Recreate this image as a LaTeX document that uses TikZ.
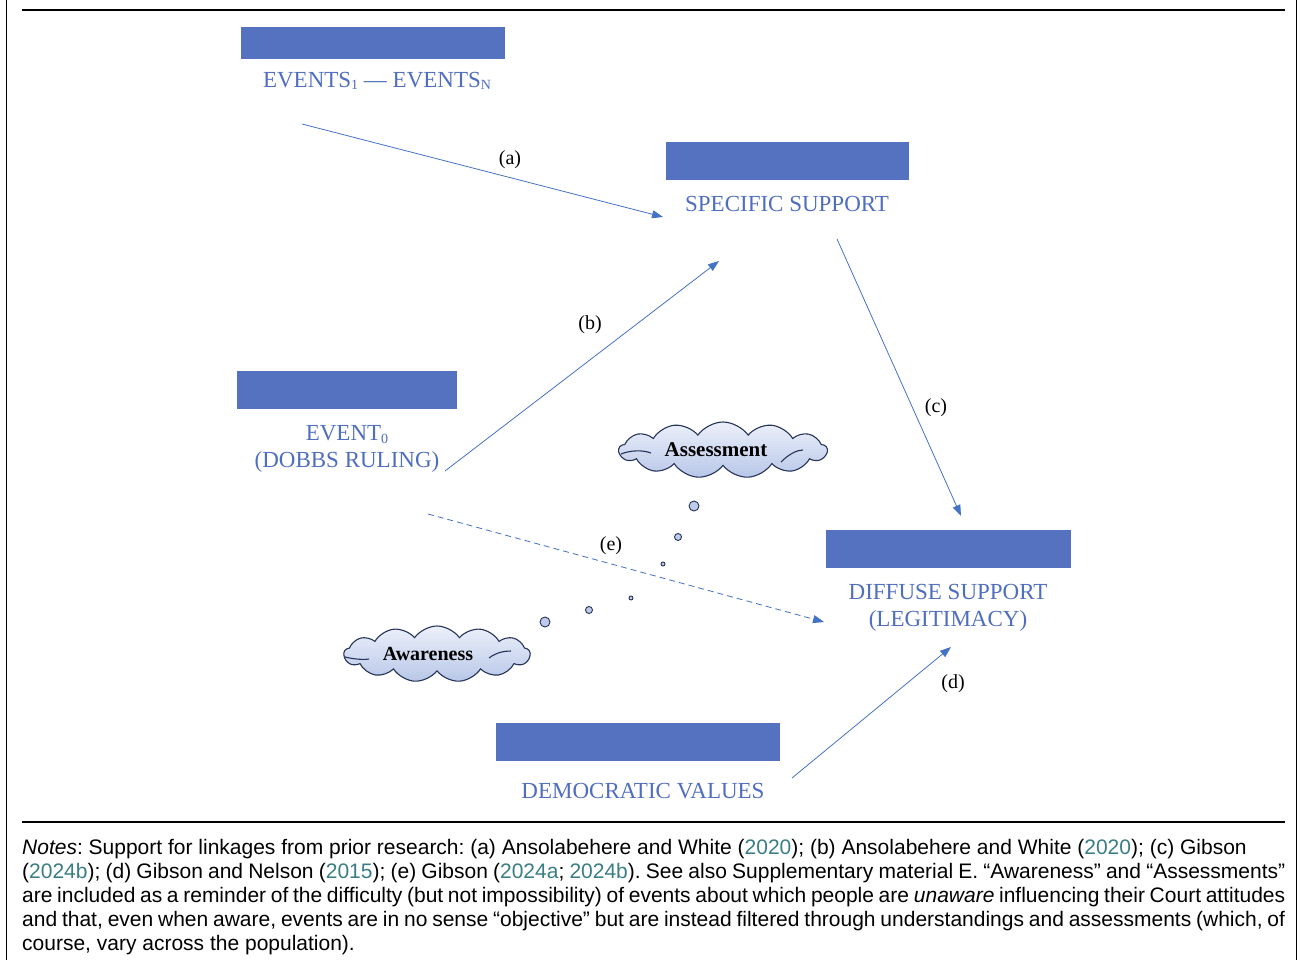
\documentclass[tikz,border=0pt]{standalone}
\usepackage{fontspec}
\setmainfont{Liberation Serif}
\newfontfamily\notesfont{Liberation Sans}
\usetikzlibrary{arrows.meta,shapes.symbols,calc}
\definecolor{boxblue}{RGB}{84,114,192}
\definecolor{labelblue}{RGB}{80,110,192}
\definecolor{arrowblue}{RGB}{68,114,196}
\definecolor{citeteal}{RGB}{58,125,132}
\definecolor{cloudline}{RGB}{38,52,88}
\definecolor{cloudtop}{RGB}{236,240,250}
\definecolor{cloudbot}{RGB}{184,199,232}
\definecolor{bubblefill}{RGB}{190,203,234}
\newcommand\yr[1]{\textcolor{citeteal}{#1}}
\newcommand\lowsub[1]{\raisebox{-0.12em}{\fontsize{14}{14}\selectfont #1}}
\frenchspacing
\begin{document}
\begin{tikzpicture}[x=1pt,y=-1pt,
  boxnode/.style={fill=boxblue,draw=none,inner sep=0pt},
  lbl/.style={text=labelblue,font=\fontsize{23}{26.5}\selectfont,align=center,inner sep=0pt},
  tag/.style={font=\fontsize{20}{22}\selectfont,inner sep=0pt},
  link/.style={draw=arrowblue,line width=0.8pt,-{Triangle[length=11pt,width=8pt]}},
  thought/.style={cloud,cloud puffs=13,cloud puff arc=110,aspect=3.6,draw=cloudline,line width=1.1pt,top color=cloudtop,bottom color=cloudbot,inner sep=0pt},
  cloudtext/.style={font=\bfseries\fontsize{21}{22}\selectfont,inner sep=0pt},
  bubble/.style={circle,draw=cloudline,line width=0.9pt,fill=bubblefill,inner sep=0pt},
  inner/.style={draw=cloudline,line width=1.1pt},
  noteline/.style={anchor=base west,inner sep=0pt,font=\notesfont\fontsize{21}{24}\selectfont}
]
\useasboundingbox (0,0) rectangle (1300,960);
% frame
\draw[line width=1.6pt] (6.5,0) -- (6.5,960);
\draw[line width=1.6pt] (1296.5,0) -- (1296.5,960);
\draw[line width=2pt] (22,10) -- (1285,10);
\draw[line width=2pt] (22,822) -- (1285,822);

% boxes
\node[boxnode,minimum width=264pt,minimum height=32pt] (evbox) at (373,43) {};
\node[boxnode,minimum width=243pt,minimum height=38pt] (spbox) at (787.5,161) {};
\node[boxnode,minimum width=220pt,minimum height=38pt] (e0box) at (347,390) {};
\node[boxnode,minimum width=245pt,minimum height=38pt] (dfbox) at (948.5,549) {};
\node[boxnode,minimum width=284pt,minimum height=38pt] (dvbox) at (638,742) {};

% labels
\node[lbl] (evlbl) at (377,81) {EVENTS\lowsub{1} — EVENTS\lowsub{N}};
\node[lbl] (splbl) at (787,204) {SPECIFIC SUPPORT};
\node[lbl] (e0lbl) at (347,449) {EVENT\lowsub{0}\\(DOBBS RULING)};
\node[lbl] (dflbl) at (948,608) {DIFFUSE SUPPORT\\(LEGITIMACY)};
\node[lbl] (dvlbl) at (643,791) {DEMOCRATIC VALUES};

% connector end points
\coordinate (a1) at (302,124); \coordinate (a2) at (663,217);
\coordinate (b1) at (445,471); \coordinate (b2) at (719,261);
\coordinate (c1) at (837,239); \coordinate (c2) at (961,516);
\coordinate (d1) at (792,778); \coordinate (d2) at (951,647);
\coordinate (e1) at (428,514); \coordinate (e2) at (824,622);

\draw[link] (a1) -- (a2);
\draw[link] (b1) -- (b2);
\draw[link] (c1) -- (c2);
\draw[link] (d1) -- (d2);
\draw[link,dashed,dash pattern=on 6pt off 4pt] (e1) -- (e2);

\node[tag] (ta) at (510,160) {(a)};
\node[tag] (tb) at (590,325) {(b)};
\node[tag] (tc) at (936,408) {(c)};
\node[tag] (td) at (953,684) {(d)};
\node[tag] (te) at (611,546) {(e)};

% clouds
\node[thought,minimum width=208pt,minimum height=56pt] (cA) at (723,450) {};
\node[cloudtext] (tA) at (716,450) {Assessment};
\node[thought,minimum width=186pt,minimum height=56pt] (cW) at (437,654) {};
\node[cloudtext,font=\bfseries\fontsize{20}{22}\selectfont] (tW) at (428,654) {Awareness};
\draw[inner] ($(cA.center)+(-102,4)$) .. controls ($(cA.center)+(-92,0)$) and ($(cA.center)+(-80,0)$) .. ($(cA.center)+(-72,3)$);
\draw[inner] ($(cA.center)+(58,12)$) .. controls ($(cA.center)+(66,4)$) and ($(cA.center)+(74,0)$) .. ($(cA.center)+(80,0)$);
\draw[inner] ($(cW.center)+(-92,3)$) .. controls ($(cW.center)+(-84,5)$) and ($(cW.center)+(-74,6)$) .. ($(cW.center)+(-68,5)$);
\draw[inner] ($(cW.center)+(52,4)$) .. controls ($(cW.center)+(60,-2)$) and ($(cW.center)+(68,-3)$) .. ($(cW.center)+(74,-3)$);

% thought bubbles
\node[bubble,minimum size=10pt] (bA1) at (694,506) {};
\node[bubble,minimum size=7pt] (bA2) at (678,537) {};
\node[bubble,minimum size=4pt] (bA3) at (663,564) {};
\node[bubble,minimum size=10pt] (bW1) at (545,622) {};
\node[bubble,minimum size=7pt] (bW2) at (589,610) {};
\node[bubble,minimum size=4pt] (bW3) at (631,598) {};

% notes
\node[noteline] (n1) at (22,854) {\textit{Notes}: Support for linkages from prior research: (a) Ansolabehere and White (\yr{2020}); (b) Ansolabehere and White (\yr{2020}); (c) Gibson};
\node[noteline] (n2) at (22,878) {\makebox[1263pt][s]{(\yr{2024b}); (d) Gibson and Nelson (\yr{2015}); (e) Gibson (\yr{2024a}; \yr{2024b}). See also Supplementary material E. “Awareness” and “Assessments”}};
\node[noteline] (n3) at (22,902) {\makebox[1263pt][s]{are included as a reminder of the difficulty (but not impossibility) of events about which people are \textit{unaware} influencing their Court attitudes}};
\node[noteline] (n4) at (22,926) {\makebox[1263pt][s]{and that, even when aware, events are in no sense “objective” but are instead filtered through understandings and assessments (which, of}};
\node[noteline] (n5) at (22,950) {course, vary across the population).};
\end{tikzpicture}
\end{document}
